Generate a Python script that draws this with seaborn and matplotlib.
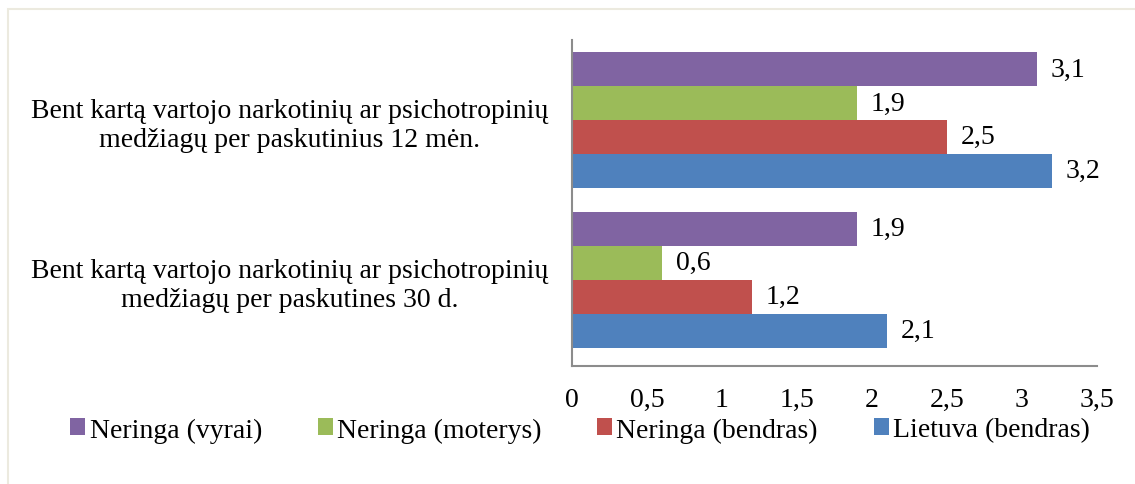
import pandas as pd
import numpy as np
import matplotlib
matplotlib.use('Agg')
import matplotlib.pyplot as plt
import seaborn as sns
from matplotlib.patches import Rectangle, Patch
from matplotlib.ticker import FuncFormatter, MultipleLocator

# Data
categories = [
    'Bent kartą vartojo narkotinių ar psichotropinių\nmedžiagų per paskutinius 12 mėn.',
    'Bent kartą vartojo narkotinių ar psichotropinių\nmedžiagų per paskutines 30 d.',
]
series = ['Neringa (vyrai)', 'Neringa (moterys)', 'Neringa (bendras)', 'Lietuva (bendras)']
vyrai = [3.1, 1.9]
moterys = [1.9, 0.6]
bendras = [2.5, 1.2]
lietuva = [3.2, 2.1]
colors = ['#8064A2', '#9BBB59', '#C0504D', '#4F81BD']

rows = []
for name, vals in zip(series, [vyrai, moterys, bendras, lietuva]):
    for cat, v in zip(categories, vals):
        rows.append({'category': cat, 'series': name, 'value': v})
df = pd.DataFrame(rows)

FS = 20
sns.set_style('white')
plt.rcParams['font.family'] = ['Liberation Serif', 'DejaVu Serif']
plt.rcParams['font.size'] = FS
for key in ['text.color', 'axes.labelcolor', 'xtick.color', 'ytick.color']:
    plt.rcParams[key] = 'black'

fig = plt.figure(figsize=(11.35, 4.85), dpi=100)
ax = fig.add_axes([572 / 1135, 1 - 367 / 485, (1097 - 572) / 1135, (367 - 41) / 485])

sns.barplot(data=df, x='value', y='category', hue='series', hue_order=series,
            order=categories, palette=colors, orient='h', width=0.85,
            saturation=1, linewidth=0, ax=ax, legend=False)

for cont in ax.containers:
    ax.bar_label(cont, labels=[f'{b.get_width():.1f}'.replace('.', ',') for b in cont],
                 padding=10, fontsize=FS, color='black')

ax.set_xlim(0, 3.5)
ax.set_ylim(1.54, -0.5)
ax.xaxis.set_major_locator(MultipleLocator(0.5))
ax.xaxis.set_major_formatter(FuncFormatter(lambda x, p: f'{x:g}'.replace('.', ',')))
ax.set_xlabel('')
ax.set_ylabel('')
ax.tick_params(axis='x', length=0, pad=15, labelsize=FS, labelcolor='black')
ax.tick_params(axis='y', length=0, pad=17, labelsize=FS, labelcolor='black')
for lbl in ax.get_yticklabels():
    lbl.set_multialignment('center')

for side in ['top', 'right']:
    ax.spines[side].set_visible(False)
for side in ['left', 'bottom']:
    ax.spines[side].set_color('#8C8C8C')
    ax.spines[side].set_linewidth(1.5)

handles = [Patch(facecolor=c, edgecolor='none', label=s) for s, c in zip(series, colors)]
leg = fig.legend(handles=handles, loc='center', bbox_to_anchor=(0.511, 1 - 431 / 485), ncol=4,
                 frameon=False, fontsize=FS, handlelength=0.55, handleheight=0.55,
                 handletextpad=0.15, columnspacing=2.0)
for t in leg.get_texts():
    t.set_color('black')

# light outer frame
fig.patches.append(Rectangle((8 / 1135, -0.1), 1.2, 1.1 - 10 / 485,
                             transform=fig.transFigure, fill=False,
                             edgecolor='#ECEADF', linewidth=1.5))

fig.savefig('out.png', dpi=100)
